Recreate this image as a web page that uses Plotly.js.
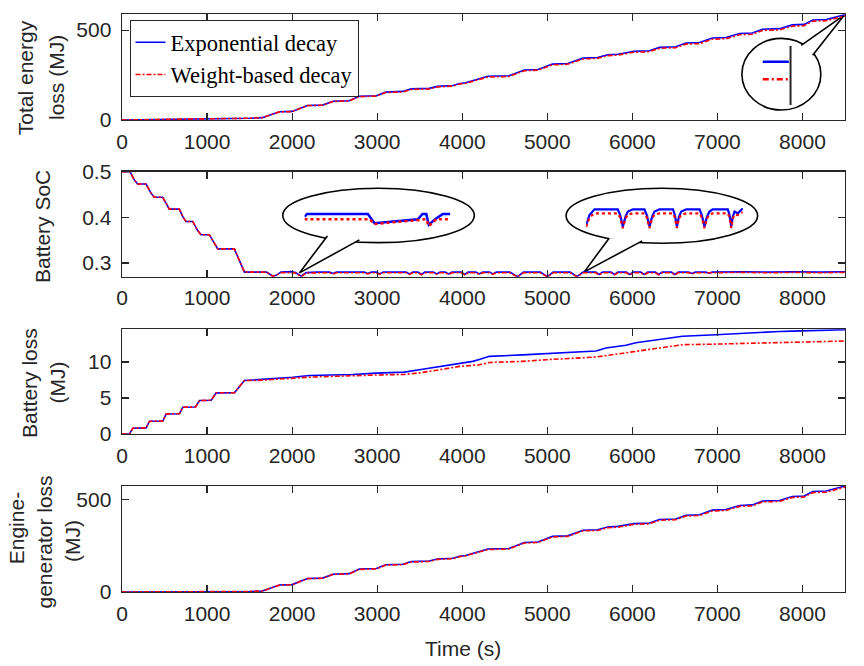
<!DOCTYPE html>
<html>
<head>
<meta charset="utf-8">
<script src="https://cdn.plot.ly/plotly-3.0.1.min.js"></script>
<style>
  html, body { margin: 0; padding: 0; background: #fff; }
  #chart { width: 864px; height: 666px; }
</style>
</head>
<body>
<div id="chart"></div>
<script>
// ---- data ----
// time axis for the two energy-loss panels (s)
var tLoss = [0,1450,1500,1650,1850,2000,2180,2360,2480,2670,2790,2990,3100,3300,3400,3610,3710,3890,3970,4040,
             4300,4550,4730,4890,5060,5240,5420,5590,5710,5830,6020,6200,6320,6510,6630,6790,6940,7100,7260,7410,
             7530,7730,7880,8020,8120,8280,8450,8500];

var totalExp = [0,7,10,13,46,48,81,83,104,107,132,135,155,159,173,176,187,192,203,207,
                243,246,278,281,311,314,344,348,363,366,382,385,404,407,428,431,456,459,481,484,
                505,508,529,532,556,559,583,586];
var totalWgt = [0,7,10,13,45,47,80,82,103,106,130,133,153,156,170,173,184,189,200,204,
                239,242,274,277,307,310,340,343,358,361,377,380,399,402,422,425,449,452,474,477,
                498,501,522,525,549,552,576,579];

var engineExp = [0,0,3,5,38,40,73,75,96,99,124,127,147,150,164,167,178,182,193,197,
                 232,235,267,270,300,303,333,336,351,354,369,372,391,394,414,417,442,445,467,470,
                 491,494,515,518,542,545,569,572];
var engineWgt = [0,0,3,5,37,39,72,74,95,98,122,125,145,148,162,165,176,180,191,195,
                 229,232,264,267,297,300,330,332,347,350,365,368,387,390,410,413,437,440,462,465,
                 486,489,510,513,536,539,563,566];

// battery loss (MJ)
var tBatt = [0,88,127,284,323,480,519,676,715,864,911,1048,1107,1322,1439,1600,1772,2007,2203,2450,
             2713,2987,3320,3496,3731,3966,4123,4201,4318,4710,4984,5337,5572,5690,5846,5924,6042,6316,6590,6982,
             7335,7726,7883,8500];
var battExp = [0,0,0.8,0.85,1.77,1.8,2.79,2.82,3.72,3.75,4.65,4.7,5.72,5.75,7.44,7.55,7.67,7.9,8.14,8.2,
               8.28,8.47,8.6,8.93,9.4,9.77,10.1,10.37,10.8,11.0,11.16,11.4,11.53,11.95,12.2,12.33,12.7,13.1,13.6,13.8,
               14.05,14.25,14.3,14.52];
var battWgt = [0,0,0.8,0.85,1.77,1.8,2.79,2.82,3.72,3.75,4.65,4.7,5.72,5.75,7.44,7.45,7.58,7.77,7.9,8.0,
               8.14,8.2,8.28,8.5,8.93,9.4,9.55,9.63,9.95,10.1,10.33,10.6,10.7,10.9,11.16,11.3,11.5,11.95,12.42,12.5,
               12.6,12.7,12.72,12.93];

// battery state of charge
var tSoc = [0,94,145,184,282,341,380,478,517,556,674,713,752,831,890,929,1027,1086,1125,1321,
            1439,1700,1772,1811,1870,1988,2040,2106,2165,2300,2440,2480,2520,2850,2890,2930,2990,3030,3070,3340,
            3380,3420,3480,3520,3560,3660,3700,3740,3800,3840,3880,3990,4030,4070,4160,4200,4240,4320,4360,4400,
            4560,4650,4720,4920,5000,5070,5270,5350,5420,5570,5610,5650,5750,5790,5830,5930,5970,6010,6100,6140,
            6180,6270,6310,6350,6460,6500,6540,6660,6700,6740,6860,6900,6940,7300,7600,7900,8200,8500];
var socExp = [0.5,0.5,0.482,0.473,0.473,0.453,0.444,0.444,0.431,0.418,0.418,0.402,0.391,0.391,0.371,0.362,0.362,0.344,0.331,0.331,
              0.280,0.280,0.271,0.273,0.280,0.281,0.279,0.271,0.279,0.280,0.280,0.277,0.280,0.280,0.277,0.280,0.280,0.276,0.280,0.280,
              0.276,0.280,0.280,0.275,0.280,0.280,0.276,0.280,0.280,0.276,0.280,0.280,0.275,0.280,0.280,0.276,0.280,0.280,0.276,0.280,
              0.280,0.270,0.280,0.280,0.270,0.280,0.280,0.270,0.280,0.280,0.275,0.280,0.280,0.275,0.280,0.280,0.275,0.280,0.280,0.275,
              0.280,0.280,0.275,0.280,0.280,0.275,0.280,0.280,0.277,0.280,0.280,0.278,0.280,0.281,0.280,0.281,0.280,0.281];
var socWgt = [0.5,0.5,0.482,0.473,0.473,0.453,0.444,0.444,0.431,0.418,0.418,0.402,0.391,0.391,0.371,0.362,0.362,0.344,0.331,0.331,
              0.280,0.280,0.271,0.273,0.279,0.279,0.278,0.270,0.278,0.2785,0.2785,0.276,0.2785,0.2785,0.276,0.2785,0.2785,0.275,0.2785,0.2785,
              0.275,0.2785,0.2785,0.274,0.2785,0.2785,0.275,0.2785,0.2785,0.275,0.2785,0.2785,0.274,0.2785,0.2785,0.275,0.2785,0.2785,0.275,0.2785,
              0.2785,0.2695,0.2785,0.2785,0.2695,0.2785,0.2785,0.2695,0.2785,0.2785,0.274,0.2785,0.2785,0.274,0.2785,0.2785,0.274,0.2785,0.2785,0.274,
              0.2785,0.2785,0.274,0.2785,0.2785,0.274,0.2785,0.2785,0.276,0.2785,0.2785,0.277,0.2785,0.2795,0.2785,0.2795,0.2785,0.2795];

// zoomed sketches inside the callouts (relative units)
var zoomA_x   = [0,1.7,43.4,47.9,77.6,80.8,83.4,85.1,89.7,94.7,99.8];
var zoomA_exp = [5.9,7.4,7.4,2.5,4.6,7.4,7.4,1.7,4.7,7.4,7.4];
var zoomA_xw  = [0,44.5,47.9,77.6,83.4,85.1,90.2,99.8];
var zoomA_wgt = [4.6,4.6,2.1,4.2,4.6,1.0,4.6,4.6];

var zoomB_x   = [0,2.1,5.3,20.2,21.7,23.4,25.1,26.6,29.8,37.2,38.7,40.4,42.1,43.6,46.8,55.4,56.6,57.9,59.2,60.7,
                 63.9,72.4,73.8,75.5,77.1,78.7,80.8,90.4,91.5,92.6,93.6,94.7,96.8,100];
var zoomB_exp = [1.0,6.3,9.3,9.3,6.3,0.2,5.4,8.1,9.3,9.3,6.3,0.2,5.4,8.1,9.3,9.3,6.3,0.2,5.4,8.1,
                 9.3,9.3,6.3,0.2,5.4,8.1,9.3,9.3,6.3,0.2,5.4,8.1,7.2,9.8];
var zoomB_wgt = [0,5,7.2,7.2,5,-0.6,4.5,6.5,7.2,7.2,5,-0.6,4.5,6.5,7.2,7.2,5,-0.6,4.5,6.5,
                 7.2,7.2,5,-0.6,4.5,6.5,7.2,7.2,5,-0.6,4.5,6.5,6.2,7.8];

var zoomC_x    = [9.4,83.7];
var zoomC_exp  = [71.9,71.9];
var zoomC_wgt  = [44,44];
var zoomC_edgeX = [88.6,88.6];
var zoomC_edgeY = [3.2,96.8];

var xTicks = [0,1000,2000,3000,4000,5000,6000,7000,8000];

// ---- styling ----
var INK = '#262626';
var FONT = 'Liberation Sans, Arial, sans-serif';
var BLUE = '#0000ff';
var RED = '#ff0000';
var DASHDOT = '5px,2px,2px,2px';

function pair(x, yExp, yWgt, xa, ya, legend) {
  return [
    { x: x, y: yExp, xaxis: xa, yaxis: ya, mode: 'lines', name: 'Exponential decay',
      showlegend: legend, line: { color: BLUE, width: 1.6 } },
    { x: x, y: yWgt, xaxis: xa, yaxis: ya, mode: 'lines', name: 'Weight-based decay',
      showlegend: legend, line: { color: RED, width: 1.6, dash: DASHDOT } }
  ];
}

var data = [].concat(
  pair(tLoss, totalExp, totalWgt, 'x', 'y', true),
  pair(tSoc, socExp, socWgt, 'x2', 'y2', false),
  pair(tBatt, battExp, battWgt, 'x3', 'y3', false),
  pair(tLoss, engineExp, engineWgt, 'x4', 'y4', false),
  [
    { x: zoomA_x, y: zoomA_exp, xaxis: 'x5', yaxis: 'y5', mode: 'lines', showlegend: false,
      line: { color: BLUE, width: 2.5 } },
    { x: zoomA_xw, y: zoomA_wgt, xaxis: 'x5', yaxis: 'y5', mode: 'lines', showlegend: false,
      line: { color: RED, width: 2.5, dash: 'dot' } },
    { x: zoomB_x, y: zoomB_exp, xaxis: 'x6', yaxis: 'y6', mode: 'lines', showlegend: false,
      line: { color: BLUE, width: 2.2 } },
    { x: zoomB_x, y: zoomB_wgt, xaxis: 'x6', yaxis: 'y6', mode: 'lines', showlegend: false,
      line: { color: RED, width: 2.2, dash: 'dot' } },
    { x: zoomC_x, y: zoomC_exp, xaxis: 'x7', yaxis: 'y7', mode: 'lines', showlegend: false,
      line: { color: BLUE, width: 2.5 } },
    { x: zoomC_x, y: zoomC_wgt, xaxis: 'x7', yaxis: 'y7', mode: 'lines', showlegend: false,
      line: { color: RED, width: 2.5, dash: '6px,3px,2px,3px' } },
    { x: zoomC_edgeX, y: zoomC_edgeY, xaxis: 'x7', yaxis: 'y7', mode: 'lines', showlegend: false,
      line: { color: INK, width: 2 } }
  ]
);

function xAxis(anchor) {
  return { domain: [0, 1], anchor: anchor, range: [0, 8500], tickvals: xTicks,
           ticks: 'inside', ticklen: 7, tickwidth: 1.2, tickcolor: INK, mirror: 'ticks',
           showline: true, linecolor: INK, linewidth: 1.4, showgrid: false, zeroline: false,
           tickfont: { family: FONT, size: 21, color: INK }, ticklabelstandoff: 2 };
}
function yAxis(anchor, domain, range, ticks, text) {
  var a = { domain: domain, anchor: anchor, range: range, tickvals: ticks,
            ticks: 'inside', ticklen: 7, tickwidth: 1.2, tickcolor: INK, mirror: 'ticks',
            showline: true, linecolor: INK, linewidth: 1.4, showgrid: false, zeroline: false,
            tickfont: { family: FONT, size: 21, color: INK }, ticklabelstandoff: 5 };
  if (text) a.ticktext = text;
  return a;
}
function hidden(anchor, domain, range) {
  return { domain: domain, anchor: anchor, range: range, visible: false, fixedrange: true };
}

function label(text, x, y) {
  return { text: text, xref: 'paper', yref: 'paper', x: x, y: y, textangle: -90,
           showarrow: false, xanchor: 'center', yanchor: 'middle',
           font: { family: FONT, size: 21, color: INK } };
}

var callout = { type: 'path', fillcolor: 'white', line: { color: 'black', width: 1.6 }, layer: 'below' };
function ell(xr, yr, x0, x1, y0, y1) {
  return { type: 'circle', xref: xr, yref: yr, x0: x0, x1: x1, y0: y0, y1: y1,
           fillcolor: 'white', line: { color: 'black', width: 1.6 }, layer: 'below' };
}
function tail(xr, yr, path) {
  return Object.assign({}, callout, { xref: xr, yref: yr, path: path });
}

var layout = {
  width: 864, height: 666,
  margin: { l: 122, r: 19, t: 14, b: 74, pad: 0 },
  paper_bgcolor: 'white', plot_bgcolor: 'rgba(0,0,0,0)',
  showlegend: true,
  legend: { x: 0.0104, y: 0.9895, xanchor: 'left', yanchor: 'top',
            bgcolor: 'white', bordercolor: INK, borderwidth: 1,
            font: { family: 'Liberation Serif, Times New Roman, serif', size: 22.5, color: 'black' },
            itemwidth: 30, tracegroupgap: 0 },
  xaxis: xAxis('y'), xaxis2: xAxis('y2'), xaxis3: xAxis('y3'), xaxis4: xAxis('y4'),
  yaxis:  yAxis('x',  [0.8166, 0.9995], [0, 588], [0, 500]),
  yaxis2: yAxis('x2', [0.5455, 0.7272], [0.27, 0.5], [0.3, 0.4, 0.5], ['0.3', '0.4', '0.5']),
  yaxis3: yAxis('x3', [0.2734, 0.4545], [0, 14.56], [0, 5, 10]),
  yaxis4: yAxis('x4', [0, 0.1834], [0, 572], [0, 500]),
  xaxis5: hidden('y5', [0.2524, 0.4544], [0, 100]),
  yaxis5: hidden('x5', [0.6298, 0.6626], [0, 10]),
  xaxis6: hidden('y6', [0.642, 0.8587], [0, 100]),
  yaxis6: hidden('x6', [0.6282, 0.6644], [-1, 10]),
  xaxis7: hidden('y7', [0.8817, 0.9302], [0, 100]),
  yaxis7: hidden('x7', [0.8391, 0.9481], [0, 100]),
  shapes: [
    ell('x', 'y', 7288, 8216, 55.6, 454),
    tail('x', 'y', 'M 7985,415 L 8490,583 L 8120,360'),
    ell('x2', 'y2', 1890, 4142, 0.3446, 0.4637),
    tail('x2', 'y2', 'M 2415,0.3593 L 2086,0.2783 L 2791,0.3506'),
    ell('x2', 'y2', 5221, 7473, 0.3433, 0.4637),
    tail('x2', 'y2', 'M 5729,0.3549 L 5435,0.2806 L 6116,0.3484')
  ],
  annotations: [
    label('Total energy', -0.1325, 0.8893),
    label('loss (MJ)', -0.0899, 0.8893),
    label('Battery SoC', -0.1107, 0.6332),
    label('Battery loss', -0.1280, 0.3625),
    label('(MJ)', -0.0899, 0.3625),
    label('Engine-', -0.1463, 0.1107),
    label('generator loss', -0.1072, 0.0865),
    label('(MJ)', -0.0692, 0.0882),
    { text: 'Time (s)', xref: 'paper', yref: 'paper', x: 0.471, y: -0.0986,
      showarrow: false, xanchor: 'center', yanchor: 'middle',
      font: { family: FONT, size: 21, color: INK } }
  ]
};

var config = { displayModeBar: false, responsive: false, staticPlot: true };

Plotly.newPlot('chart', data, layout, config);
</script>
</body>
</html>
